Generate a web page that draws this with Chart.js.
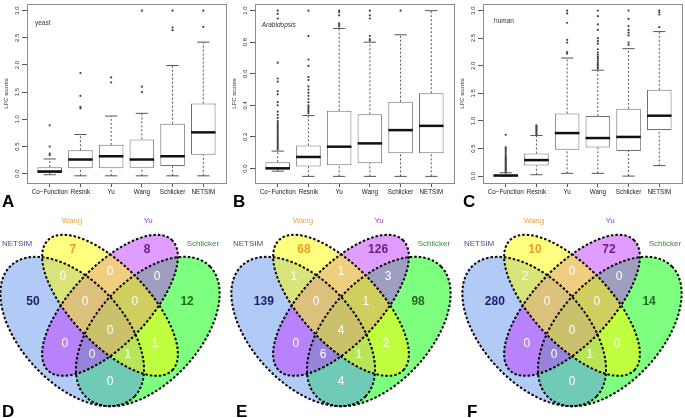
<!DOCTYPE html>
<html><head><meta charset="utf-8">
<script src="https://cdn.jsdelivr.net/npm/chart.js@4.4.1/dist/chart.umd.min.js"></script>
<style>
html,body{margin:0;padding:0;background:#fff}
#wrap{position:relative;width:685px;height:418px;overflow:hidden;background:#fff;font-family:"Liberation Sans",Arial,sans-serif}
canvas{position:absolute}
.lt{position:absolute;font-size:17px;font-weight:bold;line-height:17px;color:#000;font-family:"Liberation Sans",Arial,sans-serif}
</style></head><body><div id="wrap">
<canvas id="cA" width="230" height="200" style="left:0px;top:0px"></canvas>
<canvas id="cB" width="230" height="200" style="left:228px;top:0px"></canvas>
<canvas id="cC" width="230" height="200" style="left:456px;top:0px"></canvas>
<canvas id="cD" width="230" height="200" style="left:-5px;top:215px"></canvas>
<canvas id="cE" width="230" height="200" style="left:226px;top:215px"></canvas>
<canvas id="cF" width="230" height="200" style="left:457px;top:215px"></canvas>
<div class="lt" style="left:2px;top:193px">A</div>
<div class="lt" style="left:233px;top:193px">B</div>
<div class="lt" style="left:463px;top:193px">C</div>
<div class="lt" style="left:2px;top:403px">D</div>
<div class="lt" style="left:236px;top:403px">E</div>
<div class="lt" style="left:467px;top:403px">F</div>
</div>
<script>
// ---------------- DATA ----------------
const categories = ['Co\u2212Function','Resnik','Yu','Wang','Schlicker','NETSIM'];

// yeast (A)
const yeastLow  = [-0.02, -0.04, -0.04, -0.04, -0.04, -0.04];
const yeastQ1   = [0.01, 0.10, 0.10, 0.11, 0.14, 0.35];
const yeastMed  = [0.04, 0.26, 0.32, 0.26, 0.32, 0.76];
const yeastQ3   = [0.12, 0.43, 0.53, 0.63, 0.92, 1.29];
const yeastHigh = [0.27, 0.72, 1.06, 1.11, 1.99, 2.42];
const yeastOut  = [[0.34,0.37,0.50,0.89],[1.20,1.23,1.43,1.85],[1.68,1.77],[1.50,1.60,3.0],[2.64,2.69,3.0],[2.70,3.0]];
const yeastTicks = [0,0.5,1,1.5,2,2.5,3];

// Arabidopsis (B)
const arabLow  = [-0.017, -0.05, -0.05, -0.05, -0.05, -0.05];
const arabQ1   = [-0.006, 0.013, 0.02, 0.033, 0.096, 0.096];
const arabMed  = [0.001, 0.073, 0.138, 0.159, 0.243, 0.27];
const arabQ3   = [0.04, 0.146, 0.366, 0.343, 0.423, 0.477];
const arabHigh = [0.11, 0.335, 0.887, 0.80, 0.847, 1.0];
const arabOut  = [
  [0.12,0.13,0.14,0.15,0.16,0.17,0.18,0.19,0.20,0.21,0.22,0.23,0.24,0.25,0.26,0.27,0.28,0.29,0.30,0.32,0.34,0.36,0.40,0.42,0.47,0.49,0.55,0.57,0.67,0.95,0.98,1.0],
  [0.35,0.36,0.37,0.38,0.39,0.40,0.42,0.44,0.46,0.48,0.50,0.52,0.56,0.58,0.65,0.69,0.84,1.0],
  [0.90,0.91,0.92,0.97,0.99,1.0],
  [0.81,0.82,0.84,0.95,0.97,1.0],
  [1.0],
  []];
const arabTicks = [0,0.2,0.4,0.6,0.8,1.0];

// human (C)
const humanLow  = [0.0, 0.025, 0.05, 0.05, 0.0, 0.19];
const humanQ1   = [0.0, 0.19, 0.48, 0.52, 0.455, 0.835];
const humanMed  = [0.01, 0.29, 0.78, 0.69, 0.71, 1.095];
const humanQ3   = [0.03, 0.41, 1.135, 1.09, 1.22, 1.565];
const humanHigh = [0.06, 0.735, 2.14, 1.92, 2.31, 2.62];
const humanOut  = [
  [0.07,0.09,0.11,0.13,0.15,0.17,0.19,0.21,0.23,0.25,0.27,0.29,0.31,0.33,0.35,0.38,0.41,0.44,0.47,0.50,0.52,0.75],
  [0.76,0.78,0.80,0.82,0.84,0.86,0.88,0.90,0.92],
  [2.22,2.25,2.42,2.47,2.78,2.95,3.0],
  [1.95,1.97,2.0,2.03,2.06,2.1,2.13,2.16,2.2,2.24,2.3,2.4,2.45,2.5,2.65,2.75,2.9,3.0],
  [2.38,2.42,2.55,2.6,2.65,2.72,2.85,3.0],
  [2.70,2.93,2.97,3.0]];
const humanTicks = [0,0.5,1,1.5,2,2.5,3];

// Venn counts (region order below)
const vennSets = ['NETSIM','Wang','Yu','Schlicker'];
const vennRegions = ['NETSIM','Wang','Yu','Schlicker','NETSIM&Wang','Wang&Yu','Yu&Schlicker',
  'NETSIM&Wang&Yu','Wang&Yu&Schlicker','NETSIM&Yu','NETSIM&Wang&Yu&Schlicker','Wang&Schlicker',
  'NETSIM&Yu&Schlicker','NETSIM&Wang&Schlicker','NETSIM&Schlicker'];
const vennYeast       = [50, 7, 8, 12, 0, 0, 0, 0, 0, 0, 0, 1, 0, 1, 0];
const vennArabidopsis = [139, 68, 126, 98, 1, 1, 3, 0, 1, 0, 4, 2, 6, 1, 4];
const vennHuman       = [280, 10, 72, 14, 2, 0, 0, 0, 0, 0, 0, 0, 0, 1, 0];

// ---------------- LAYOUT / STYLE ----------------
const FONT = '"Liberation Sans", Arial, Helvetica, sans-serif';
Chart.defaults.font.family = FONT;
Chart.defaults.animation = false;
Chart.defaults.events = [];
Chart.defaults.plugins.legend.display = false;
Chart.defaults.plugins.tooltip.enabled = false;

// Venn geometry in unit coordinates (y up)
const vennEllipses = [ // drawing order
  {set:'Schlicker', cx:0.65, cy:0.47, a:0.35, b:0.20, rot:45,  fill:'#00ff00'},
  {set:'NETSIM',    cx:0.35, cy:0.47, a:0.35, b:0.20, rot:-45, fill:'#6495ed'},
  {set:'Yu',        cx:0.50, cy:0.57, a:0.35, b:0.15, rot:45,  fill:'#bf3eff'},
  {set:'Wang',      cx:0.50, cy:0.57, a:0.35, b:0.15, rot:-45, fill:'#ffff00'}
];
const regionPos = [[0.194,0.583],[0.353,0.781],[0.647,0.781],[0.806,0.583],[0.313,0.678],[0.5,0.697],[0.687,0.678],
  [0.401,0.583],[0.599,0.583],[0.321,0.424],[0.5,0.472],[0.679,0.424],[0.429,0.380],[0.571,0.380],[0.5,0.277]];
const setLabelPos = [[0.131,0.804],[0.349,0.892],[0.651,0.892],[0.869,0.804]];
const setLabelColor = ['#48489e','#f0a040','#9040b0','#3c8a3c'];
const setCountColor = ['#1c1c6b','#f39a1f','#6a1f86','#1f6b1f'];

// ---------------- PLUGINS ----------------
const boxDeco = {
  id:'boxDeco',
  afterDraw(chart, args, o){
    const {ctx, chartArea:a, scales:{x, y}} = chart;
    ctx.save();
    ctx.strokeStyle = '#8c8c8c'; ctx.lineWidth = 1;
    ctx.strokeRect(Math.round(a.left)+0.5, Math.round(a.top)+0.5, Math.round(a.right-a.left), Math.round(a.bottom-a.top));
    ctx.fillStyle = '#333';
    ctx.font = '6px ' + FONT;
    ctx.textAlign = 'center'; ctx.textBaseline = 'middle';
    y.ticks.forEach(t => {
      const py = y.getPixelForValue(t.value);
      ctx.save(); ctx.translate(a.left - 10, py); ctx.rotate(-Math.PI/2);
      ctx.fillText(Number(t.value).toFixed(1), 0, 0); ctx.restore();
    });
    ctx.font = (o.italic ? 'italic ' : '') + '6.5px ' + FONT;
    ctx.textAlign = 'left';
    ctx.fillText(o.note, x.getPixelForValue(o.noteX), y.getPixelForValue(o.noteY));
    ctx.restore();
  }
};

const vennPlugin = {
  id:'venn',
  afterDatasetsDraw(chart, args, o){
    const {ctx, scales:{x, y}} = chart;
    const path = e => {
      const th = e.rot*Math.PI/180, c = Math.cos(th), s = Math.sin(th);
      ctx.beginPath();
      for (let k = 0; k <= 200; k++){
        const t = k/200*2*Math.PI;
        const u = e.cx + e.a*Math.cos(t)*c - e.b*Math.sin(t)*s;
        const v = e.cy + e.a*Math.cos(t)*s + e.b*Math.sin(t)*c;
        const px = x.getPixelForValue(u), py = y.getPixelForValue(v);
        if (k) ctx.lineTo(px, py); else ctx.moveTo(px, py);
      }
      ctx.closePath();
    };
    ctx.save();
    vennEllipses.forEach(e => { path(e); ctx.globalAlpha = 0.5; ctx.fillStyle = e.fill; ctx.fill(); });
    ctx.globalAlpha = 1;
    ctx.setLineDash([2.5, 2]); ctx.lineWidth = 2; ctx.strokeStyle = '#000';
    vennEllipses.forEach(e => { path(e); ctx.stroke(); });
    ctx.setLineDash([]);
    ctx.textAlign = 'center'; ctx.textBaseline = 'middle';
    const pts = chart.getDatasetMeta(0).data;
    pts.forEach((p, i) => {
      if (i < 4){ ctx.font = 'bold 12px ' + FONT; ctx.fillStyle = setCountColor[i]; }
      else { ctx.font = '12px ' + FONT; ctx.fillStyle = '#ffffff'; }
      ctx.fillText(String(o.counts[i]), p.x, p.y);
    });
    const lp = chart.getDatasetMeta(1).data;
    ctx.font = '8px ' + FONT;
    lp.forEach((p, i) => { ctx.fillStyle = setLabelColor[i]; ctx.fillText(vennSets[i], p.x, p.y); });
    ctx.restore();
  }
};

// ---------------- BUILDERS ----------------
function boxChart(id, d){
  const whisk = [], caps = [], boxes = [], meds = [], outs = [];
  categories.forEach((c, i) => {
    const xi = i + 1;
    whisk.push({x:xi, y:d.low[i]}, {x:xi, y:d.q1[i]}, {x:xi, y:null}, {x:xi, y:d.q3[i]}, {x:xi, y:d.high[i]}, {x:xi, y:null});
    caps.push({x:xi, y:d.low[i]}, {x:xi, y:d.high[i]});
    boxes.push({x:xi, y:[d.q1[i], d.q3[i]]});
    meds.push({x:xi, y:d.med[i]});
    d.out[i].forEach(v => outs.push({x:xi, y:v}));
  });
  const halfPx = frac => ctx => { const s = ctx.chart.scales.x; return Math.abs(s.getPixelForValue(1 + frac) - s.getPixelForValue(1)); };
  new Chart(document.getElementById(id), {
    type:'bar',
    data:{datasets:[
      {type:'line', data:whisk, borderColor:'#555', borderWidth:1, borderDash:[2,2], pointRadius:0, spanGaps:false, order:5},
      {type:'scatter', data:caps, pointStyle:'line', pointRadius:halfPx(0.2), borderColor:'#555', backgroundColor:'#555', borderWidth:1, order:4},
      {type:'bar', data:boxes, backgroundColor:'#ffffff', borderColor:'#707070', borderWidth:1, borderSkipped:false, categoryPercentage:1, barPercentage:0.8, order:3},
      {type:'scatter', data:meds, pointStyle:'line', pointRadius:halfPx(0.4), borderColor:'#111', backgroundColor:'#111', borderWidth:2.5, order:2},
      {type:'scatter', data:outs, pointStyle:'circle', pointRadius:1.1, backgroundColor:'#444', borderWidth:0, order:1}
    ]},
    options:{
      responsive:false,
      layout:{padding:{left:0, right:3, top:1, bottom:0}},
      scales:{
        x:{type:'linear', min:0.26, max:6.74, offset:false,
           afterBuildTicks:s => { s.ticks = categories.map((c, i) => ({value:i + 1})); },
           afterFit:s => { s.height = 17; },
           ticks:{callback:v => categories[Math.round(v) - 1], autoSkip:false, maxRotation:0, minRotation:0, padding:1, color:'#222', font:{size:6.3}},
           grid:{display:true, drawOnChartArea:false, drawTicks:true, tickLength:4, color:'#555', offset:false},
           border:{display:false}},
        y:{type:'linear', min:d.ymin, max:d.ymax,
           afterBuildTicks:s => { s.ticks = d.ticks.map(v => ({value:v})); },
           afterFit:s => { s.width = 27; },
           ticks:{display:false},
           grid:{display:true, drawOnChartArea:false, drawTicks:true, tickLength:5, color:'#555'},
           border:{display:false},
           title:{display:true, text:'LFC scores', color:'#333', font:{size:6}, padding:{top:3, bottom:0}}}
      },
      plugins:{boxDeco:{note:d.note, noteX:d.noteX, noteY:d.noteY, italic:d.italic}}
    },
    plugins:[boxDeco]
  });
}

function vennChart(id, counts){
  new Chart(document.getElementById(id), {
    type:'scatter',
    data:{datasets:[
      {data:regionPos.map(p => ({x:p[0], y:p[1]})), pointRadius:0},
      {data:setLabelPos.map(p => ({x:p[0], y:p[1]})), pointRadius:0}
    ]},
    options:{
      responsive:false,
      layout:{padding:0},
      scales:{
        x:{type:'linear', display:false, min:0.0437, max:0.9563},
        y:{type:'linear', display:false, min:0.1513, max:0.9147}
      },
      plugins:{venn:{counts}}
    },
    plugins:[vennPlugin]
  });
}

boxChart('cA', {low:yeastLow, q1:yeastQ1, med:yeastMed, q3:yeastQ3, high:yeastHigh, out:yeastOut, ticks:yeastTicks,
  ymin:-0.172, ymax:3.122, note:'yeast', noteX:0.52, noteY:2.76, italic:false});
boxChart('cB', {low:arabLow, q1:arabQ1, med:arabMed, q3:arabQ3, high:arabHigh, out:arabOut, ticks:arabTicks,
  ymin:-0.092, ymax:1.042, note:'Arabidopsis', noteX:0.48, noteY:0.905, italic:true});
boxChart('cC', {low:humanLow, q1:humanQ1, med:humanMed, q3:humanQ3, high:humanHigh, out:humanOut, ticks:humanTicks,
  ymin:-0.125, ymax:3.12, note:'human', noteX:0.62, noteY:2.8, italic:false});

vennChart('cD', vennYeast);
vennChart('cE', vennArabidopsis);
vennChart('cF', vennHuman);
</script>
</body></html>
